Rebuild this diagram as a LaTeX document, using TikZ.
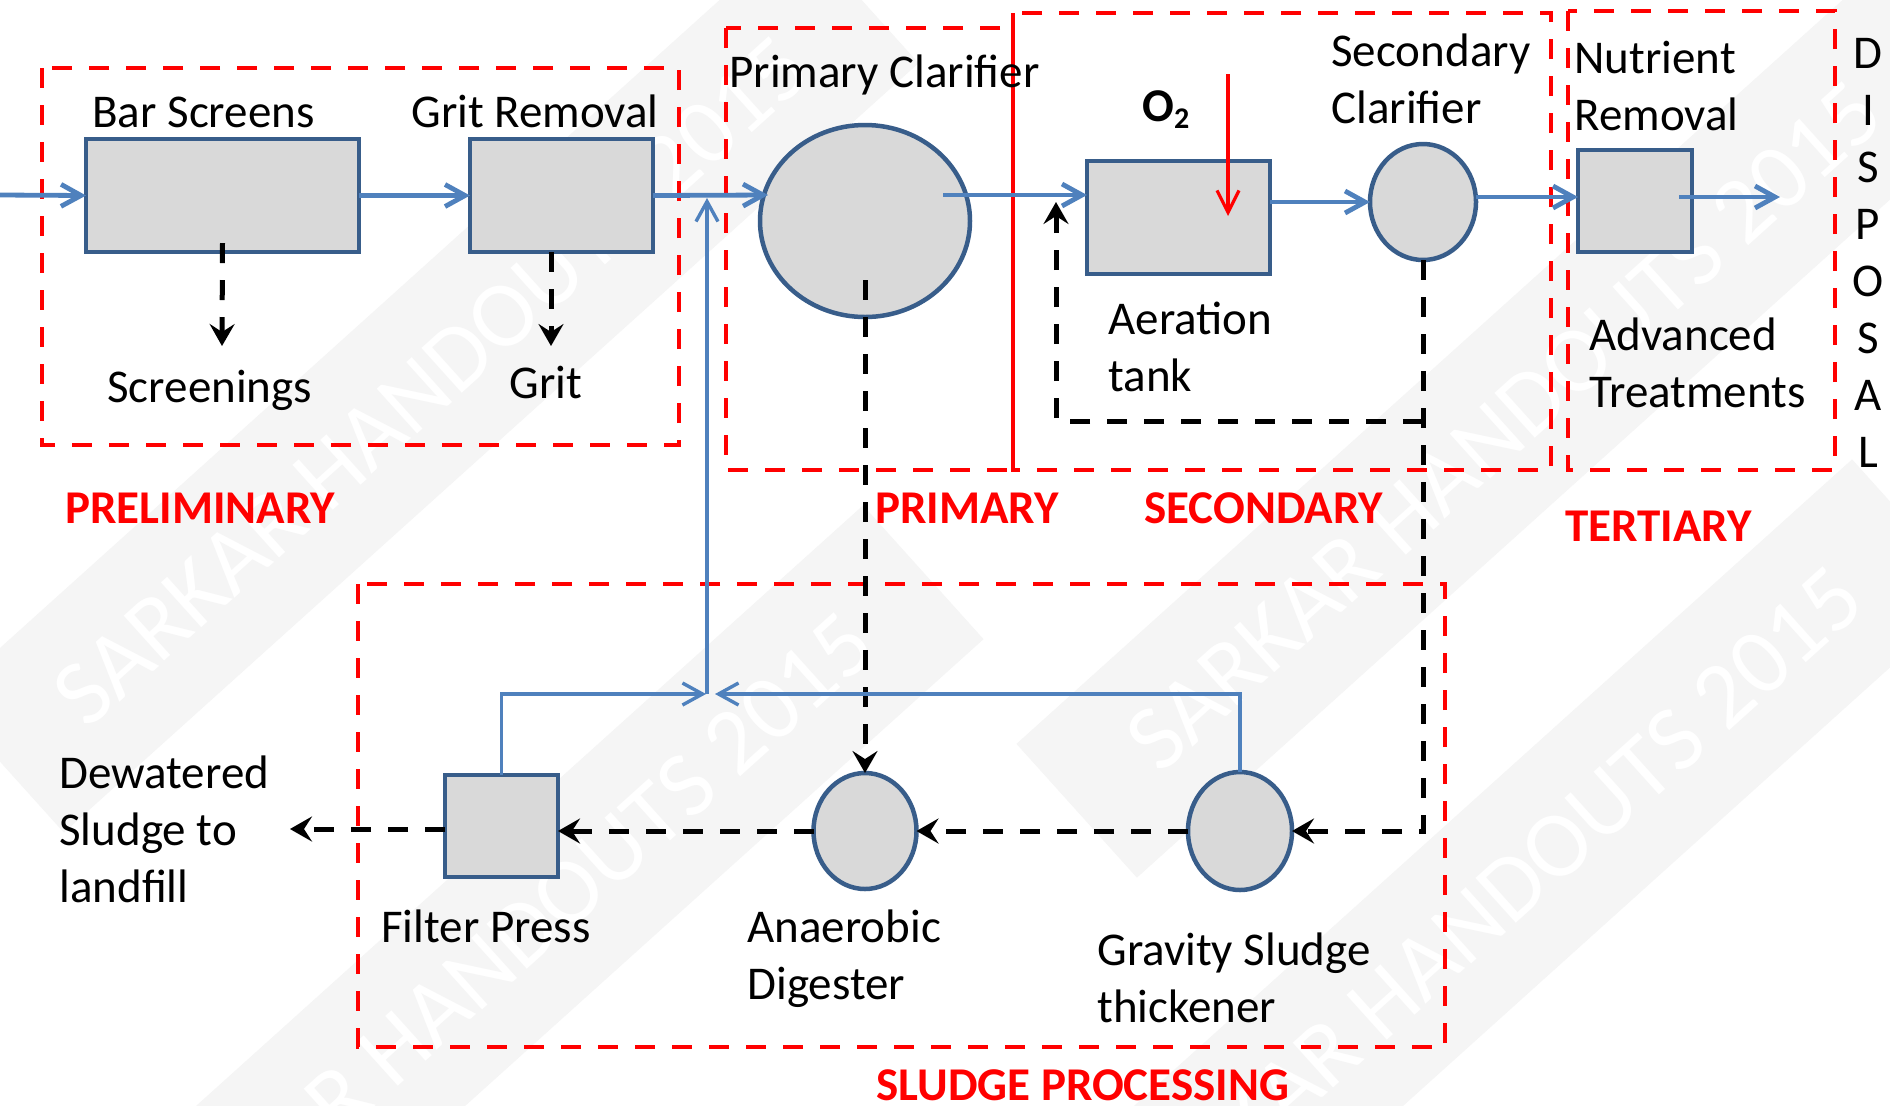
\documentclass[tikz,border=0pt]{standalone}
\usepackage{fontspec}
\setmainfont{Carlito}
\usetikzlibrary{arrows.meta,shapes.geometric,calc}
\definecolor{flowblue}{RGB}{79,129,189}
\definecolor{boxedge}{RGB}{56,93,138}
\definecolor{boxfill}{RGB}{217,217,217}
\definecolor{zonered}{RGB}{255,0,0}
\definecolor{wmgray}{RGB}{245,245,245}
\begin{document}
\begin{tikzpicture}[x=0.5pt,y=-0.5pt,
  tank/.style={draw=boxedge, fill=boxfill, line width=2.25pt, inner sep=0pt, outer sep=0pt},
  roundtank/.style={tank, ellipse},
  zone/.style={draw=zonered, line width=2.25pt, dash pattern=on 10pt off 8.5pt},
  divider/.style={draw=zonered, line width=2.25pt},
  flow/.style={draw=flowblue, line width=2.4pt, -{Straight Barb[length=10pt,width=11pt]}},
  returnflow/.style={draw=flowblue, line width=1.7pt, -{Straight Barb[length=10pt,width=11pt]}},
  waste/.style={draw=black, line width=2.5pt, dash pattern=on 10pt off 8.5pt, -{Stealth[length=11pt,width=12.5pt,inset=4pt]}},
  oxy/.style={draw=zonered, line width=1.6pt, -{Straight Barb[length=11pt,width=11pt]}},
  lbl/.style={font=\fontsize{23.5}{28}\selectfont, anchor=base west, inner sep=0pt},
  zonelbl/.style={font=\fontsize{23.5}{28}\selectfont\bfseries, text=zonered, anchor=base west, inner sep=0pt},
  wmark/.style={rotate=42, fill=wmgray, text=white, minimum width=575pt, minimum height=90pt, font=\fontsize{47}{50}\selectfont, inner sep=0pt}
]
\path[use as bounding box, fill=white] (0,0) rectangle (1890,1105);

% watermark
\begin{scope}
\clip (0,0) rectangle (1890,1105);
\node[wmark] (w1) at (431,381) {SARKAR HANDOUTS 2015};
\node[wmark] (w2) at (496,957) {SARKAR HANDOUTS 2015};
\node[wmark] (w3) at (1504,426) {SARKAR HANDOUTS 2015};
\node[wmark] (w4) at (1485,911) {SARKAR HANDOUTS 2015};
\end{scope}

% zones
\draw[zone] (42,68) rectangle (679,445);
\draw[zone] (726,28) rectangle (1013,470);
\draw[zone] (1013,13) rectangle (1551,470);
\draw[divider] (1013,13) -- (1013,470);
\draw[zone] (1568,11) rectangle (1835,470);
\draw[zone] (358,584) rectangle (1445,1047);

% units
\node[tank, minimum width=136.5pt, minimum height=56.5pt] (bar) at (222.5,195.5) {};
\node[tank, minimum width=91.5pt, minimum height=56.5pt] (grit) at (561.5,195.5) {};
\node[roundtank, minimum width=105pt, minimum height=96pt] (prim) at (865,221) {};
\node[tank, minimum width=91.5pt, minimum height=56.5pt] (aer) at (1178.5,217.5) {};
\node[roundtank, minimum width=53pt, minimum height=58pt] (sec) at (1423,202) {};
\node[tank, minimum width=57pt, minimum height=51pt] (nut) at (1635,201) {};
\node[tank, minimum width=56.5pt, minimum height=51pt] (fp) at (501.5,826) {};
\node[roundtank, minimum width=51.5pt, minimum height=58pt] (dig) at (865,831) {};
\node[roundtank, minimum width=52pt, minimum height=59pt] (thk) at (1240,831) {};

% free ends
\coordinate (inlet) at (0,195);
\coordinate (pin) at (768,195);
\coordinate (pout) at (943,195);
\coordinate (nout) at (1679,197);
\coordinate (disp) at (1780,197);
\coordinate (o2a) at (1228,74);
\coordinate (o2b) at (1228,216);
\coordinate (scr) at (222,346);
\coordinate (grt) at (551,346);
\coordinate (rc) at (1423,421);
\coordinate (rctip) at (1056,202);
\coordinate (land) at (290,829);
\coordinate (jL) at (706,694);
\coordinate (jR) at (715,694);
\coordinate (jC) at (707,694);
\coordinate (jT) at (707,198);

% main flow
\draw[flow] (inlet) -- (bar.west);
\draw[flow] (bar.east) -- (grit.west);
\draw[flow] (grit.east) -- (pin);
\draw[flow] (pout) -- (pout -| aer.west);
\draw[flow] (aer.east |- sec.west) -- (sec.west);
\draw[flow] (sec.east |- nout) -- (nut.west |- nout);
\draw[flow] (nout) -- (disp);
\draw[oxy] (o2a) -- (o2b);

% sludge / waste lines
\draw[waste] ($(bar.south)+(0,-9)$) -- (scr);
\draw[waste] ($(grit.south)+(-10.5,0)$) -- (grt);
\draw[waste] ($(prim.center)+(0,59)$) -- (dig.north);
\draw[waste] (sec.south) |- (thk.east);
\draw[waste] (rc) -| (rctip);
\draw[waste] (thk.west) -- (dig.east);
\draw[waste] (dig.west) -- (dig.west -| fp.east);
\draw[waste] (fp.west |- land) -- (land);

% return flow
\draw[returnflow] (fp.north) |- (jL);
\draw[returnflow] (thk.north) |- (jR);
\draw[returnflow] (jC) -- (jT);

% labels
\node[lbl] (tbar) at (92,127) {Bar Screens};
\node[lbl] (tgrit) at (411,127) {Grit Removal};
\node[lbl] (tscr) at (107,402) {Screenings};
\node[lbl] (tgr) at (509,398) {Grit};
\node[lbl] (tprim) at (729,87) {Primary Clarifier};
\node[lbl, font=\fontsize{23.5}{28}\selectfont\bfseries] (to2) at (1142,121) {O\raisebox{-0.35ex}{\fontsize{15}{18}\selectfont 2}};
\node[lbl] (tsec1) at (1331,66) {Secondary};
\node[lbl] (tsec2) at (1331,123) {Clarifier};
\node[lbl] (taer1) at (1108,334) {Aeration};
\node[lbl] (taer2) at (1108,391) {tank};
\node[lbl] (tnut1) at (1574,73) {Nutrient};
\node[lbl] (tnut2) at (1574,130) {Removal};
\node[lbl] (tadv1) at (1589,350) {Advanced};
\node[lbl] (tadv2) at (1589,407) {Treatments};
\foreach \ch [count=\i] in {D,I,S,P,O,S,A,L}
  \node[lbl, anchor=base] (tdisp\i) at (1868,{68+57.1*(\i-1)}) {\ch};
\node[lbl] (tdew1) at (59,788) {Dewatered};
\node[lbl] (tdew2) at (59,845) {Sludge to};
\node[lbl] (tdew3) at (59,902) {landfill};
\node[lbl] (tfp) at (381,942) {Filter Press};
\node[lbl] (tdig1) at (747,942) {Anaerobic};
\node[lbl] (tdig2) at (747,999) {Digester};
\node[lbl] (tthk1) at (1097,965) {Gravity Sludge};
\node[lbl] (tthk2) at (1097,1022) {thickener};

\node[zonelbl] (zprel) at (65,523) {PRELIMINARY};
\node[zonelbl] (zprim) at (875,523) {PRIMARY};
\node[zonelbl] (zsec) at (1144,523) {SECONDARY};
\node[zonelbl] (zter) at (1565,541) {TERTIARY};
\node[zonelbl] (zslu) at (876,1100) {SLUDGE PROCESSING};
\end{tikzpicture}
\end{document}
